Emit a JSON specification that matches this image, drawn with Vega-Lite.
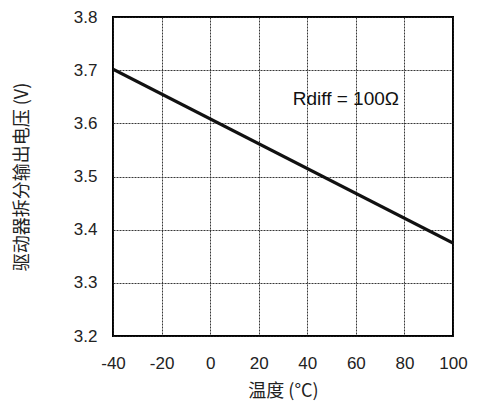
{
  "$schema": "https://vega.github.io/schema/vega-lite/v6.json",
  "autosize": {"type": "none"},
  "width": 340,
  "height": 319,
  "padding": {"left": 113, "top": 17, "right": 26, "bottom": 70},
  "background": "white",
  "config": {
    "view": {"stroke": "#000", "strokeWidth": 2},
    "font": "Liberation Sans",
    "axis": {
      "labelFont": "Liberation Sans",
      "labelFontSize": 17,
      "labelColor": "#222",
      "titleFont": "Noto Sans CJK SC",
      "titleFontSize": 18,
      "titleFontWeight": "normal",
      "titleColor": "#222",
      "domain": false,
      "ticks": false,
      "grid": true,
      "gridColor": "#222",
      "gridDash": [2, 1],
      "gridWidth": 1,
      "gridOpacity": 0.9
    }
  },
  "datasets": {
    "line": [
      {"temp": -40, "v": 3.702},
      {"temp": 100, "v": 3.375}
    ],
    "label": [
      {"temp": 34, "v": 3.646, "text": "Rdiff = 100Ω"}
    ]
  },
  "layer": [
    {
      "data": {"name": "line"},
      "mark": {"type": "line", "color": "#111", "strokeWidth": 3.2, "clip": true},
      "encoding": {
        "x": {
          "field": "temp", "type": "quantitative",
          "scale": {"domain": [-40, 100], "nice": false},
          "axis": {"values": [-40, -20, 0, 20, 40, 60, 80, 100], "labelExpr": "'' + datum.value", "labelPadding": 19, "title": "温度 (°C)", "titlePadding": 11,
            "labelFlush": false}
        },
        "y": {
          "field": "v", "type": "quantitative",
          "scale": {"domain": [3.2, 3.8], "nice": false, "zero": false},
          "axis": {"values": [3.2, 3.3, 3.4, 3.5, 3.6, 3.7, 3.8], "format": ".1f", "labelPadding": 16, "title": "驱动器拆分输出电压 (V)", "titleFontSize": 18, "titlePadding": 42, "labelFlush": false}
        }
      }
    },
    {
      "data": {"name": "label"},
      "mark": {"type": "text", "align": "left", "baseline": "middle", "fontSize": 19, "font": "Liberation Sans", "color": "#111"},
      "encoding": {
        "x": {"field": "temp", "type": "quantitative"},
        "y": {"field": "v", "type": "quantitative"},
        "text": {"field": "text"}
      }
    }
  ]
}
